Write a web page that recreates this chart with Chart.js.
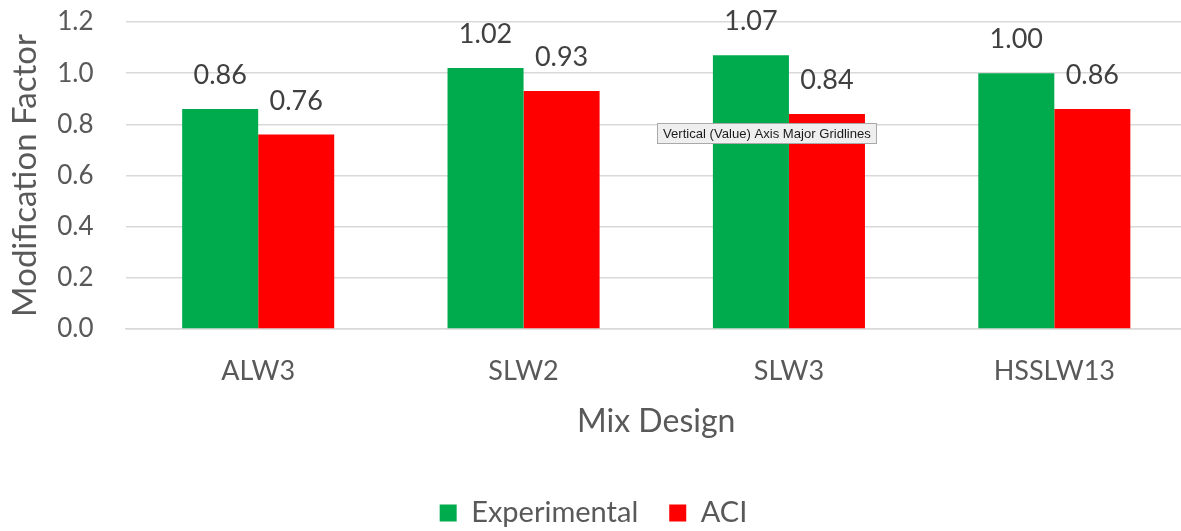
<!DOCTYPE html>
<html>
<head>
<meta charset="utf-8">
<script src="https://cdn.jsdelivr.net/npm/chart.js@4/dist/chart.umd.min.js"></script>
<style>
  html, body { margin: 0; padding: 0; background: #fff; overflow: hidden; }
  #wrap { width: 1190px; height: 531px; }
</style>
</head>
<body>
<div id="wrap"><canvas id="c" width="1190" height="531"></canvas></div>
<script>
const categories = ['ALW3', 'SLW2', 'SLW3', 'HSSLW13'];
const experimental = [0.86, 1.02, 1.07, 1.00];
const aci = [0.76, 0.93, 0.84, 0.86];
const yTicks = [0.0, 0.2, 0.4, 0.6, 0.8, 1.0, 1.2];

const FONT = 'Lato, "Open Sans", sans-serif';
const TEXT = '#595959';

// Value labels above each bar, read from the dataset values
const valueLabels = {
  id: 'valueLabels',
  afterDatasetsDraw(chart) {
    const ctx = chart.ctx;
    ctx.save();
    ctx.font = '27px ' + FONT;
    ctx.fillStyle = '#404040';
    ctx.textAlign = 'center';
    ctx.textBaseline = 'alphabetic';
    chart.data.datasets.forEach((ds, i) => {
      chart.getDatasetMeta(i).data.forEach((bar, j) => {
        ctx.fillText(ds.data[j].toFixed(2), bar.x, bar.y - 25);
      });
    });
    ctx.restore();
  }
};

// Hover hint box over the gridlines
const hoverHint = {
  id: 'hoverHint',
  afterDraw(chart) {
    const ctx = chart.ctx;
    const text = 'Vertical (Value) Axis Major Gridlines';
    ctx.save();
    ctx.font = '12px "Liberation Sans", Arial, sans-serif';
    const size = 12 * 208 / ctx.measureText(text).width;
    ctx.font = size.toFixed(2) + 'px "Liberation Sans", Arial, sans-serif';
    const x = 657, y = 123, w = 220, h = 21;
    ctx.fillStyle = '#efefef';
    ctx.fillRect(x, y, w, h);
    ctx.strokeStyle = '#a9a9a9';
    ctx.lineWidth = 1;
    ctx.strokeRect(x + 0.5, y + 0.5, w - 1, h - 1);
    ctx.fillStyle = '#1a1a1a';
    ctx.textAlign = 'left';
    ctx.textBaseline = 'middle';
    ctx.fillText(text, x + 6, y + h / 2 + 1);
    ctx.restore();
  }
};

new Chart(document.getElementById('c'), {
  type: 'bar',
  data: {
    labels: categories,
    datasets: [
      { label: 'Experimental', data: experimental, backgroundColor: '#00ab4e' },
      { label: 'ACI', data: aci, backgroundColor: '#ff0000' }
    ]
  },
  options: {
    responsive: false,
    animation: false,
    events: [],
    layout: { padding: { left: 0, right: 3, top: 22, bottom: -6.5 } },
    datasets: { bar: { barPercentage: 1.0, categoryPercentage: 0.573 } },
    plugins: {
      tooltip: { enabled: false },
      legend: {
        position: 'bottom',
        labels: {
          font: { family: FONT, size: 29 },
          color: TEXT,
          boxWidth: 17,
          boxHeight: 17,
          padding: 31
        }
      }
    },
    scales: {
      x: {
        afterFit(scale) { scale.height = 138.5; scale.paddingLeft = 0; scale.paddingRight = 0; },
        grid: { display: false },
        border: { display: true, color: '#d9d9d9', width: 1.5 },
        ticks: { font: { family: FONT, size: 27 }, color: TEXT, padding: 18 },
        title: {
          display: true, text: 'Mix Design',
          font: { family: FONT, size: 32 }, color: TEXT,
          padding: { top: 0, bottom: 27 }
        }
      },
      y: {
        min: 0, max: 1.2,
        afterBuildTicks(axis) { axis.ticks = yTicks.map(v => ({ value: v })); },
        afterFit(scale) { scale.width = 125.5; scale.paddingTop = 0; scale.paddingBottom = 0; },
        grid: { color: '#d9d9d9', lineWidth: 1.5, drawTicks: false },
        border: { display: false },
        ticks: {
          font: { family: FONT, size: 26 }, color: TEXT, padding: 32,
          callback: v => Number(v).toFixed(1)
        },
        title: {
          display: true, text: 'Modification Factor',
          font: { family: FONT, size: 33 }, color: TEXT,
          padding: { top: 6, bottom: 0 }
        }
      }
    }
  },
  plugins: [valueLabels, hoverHint]
});
</script>
</body>
</html>
